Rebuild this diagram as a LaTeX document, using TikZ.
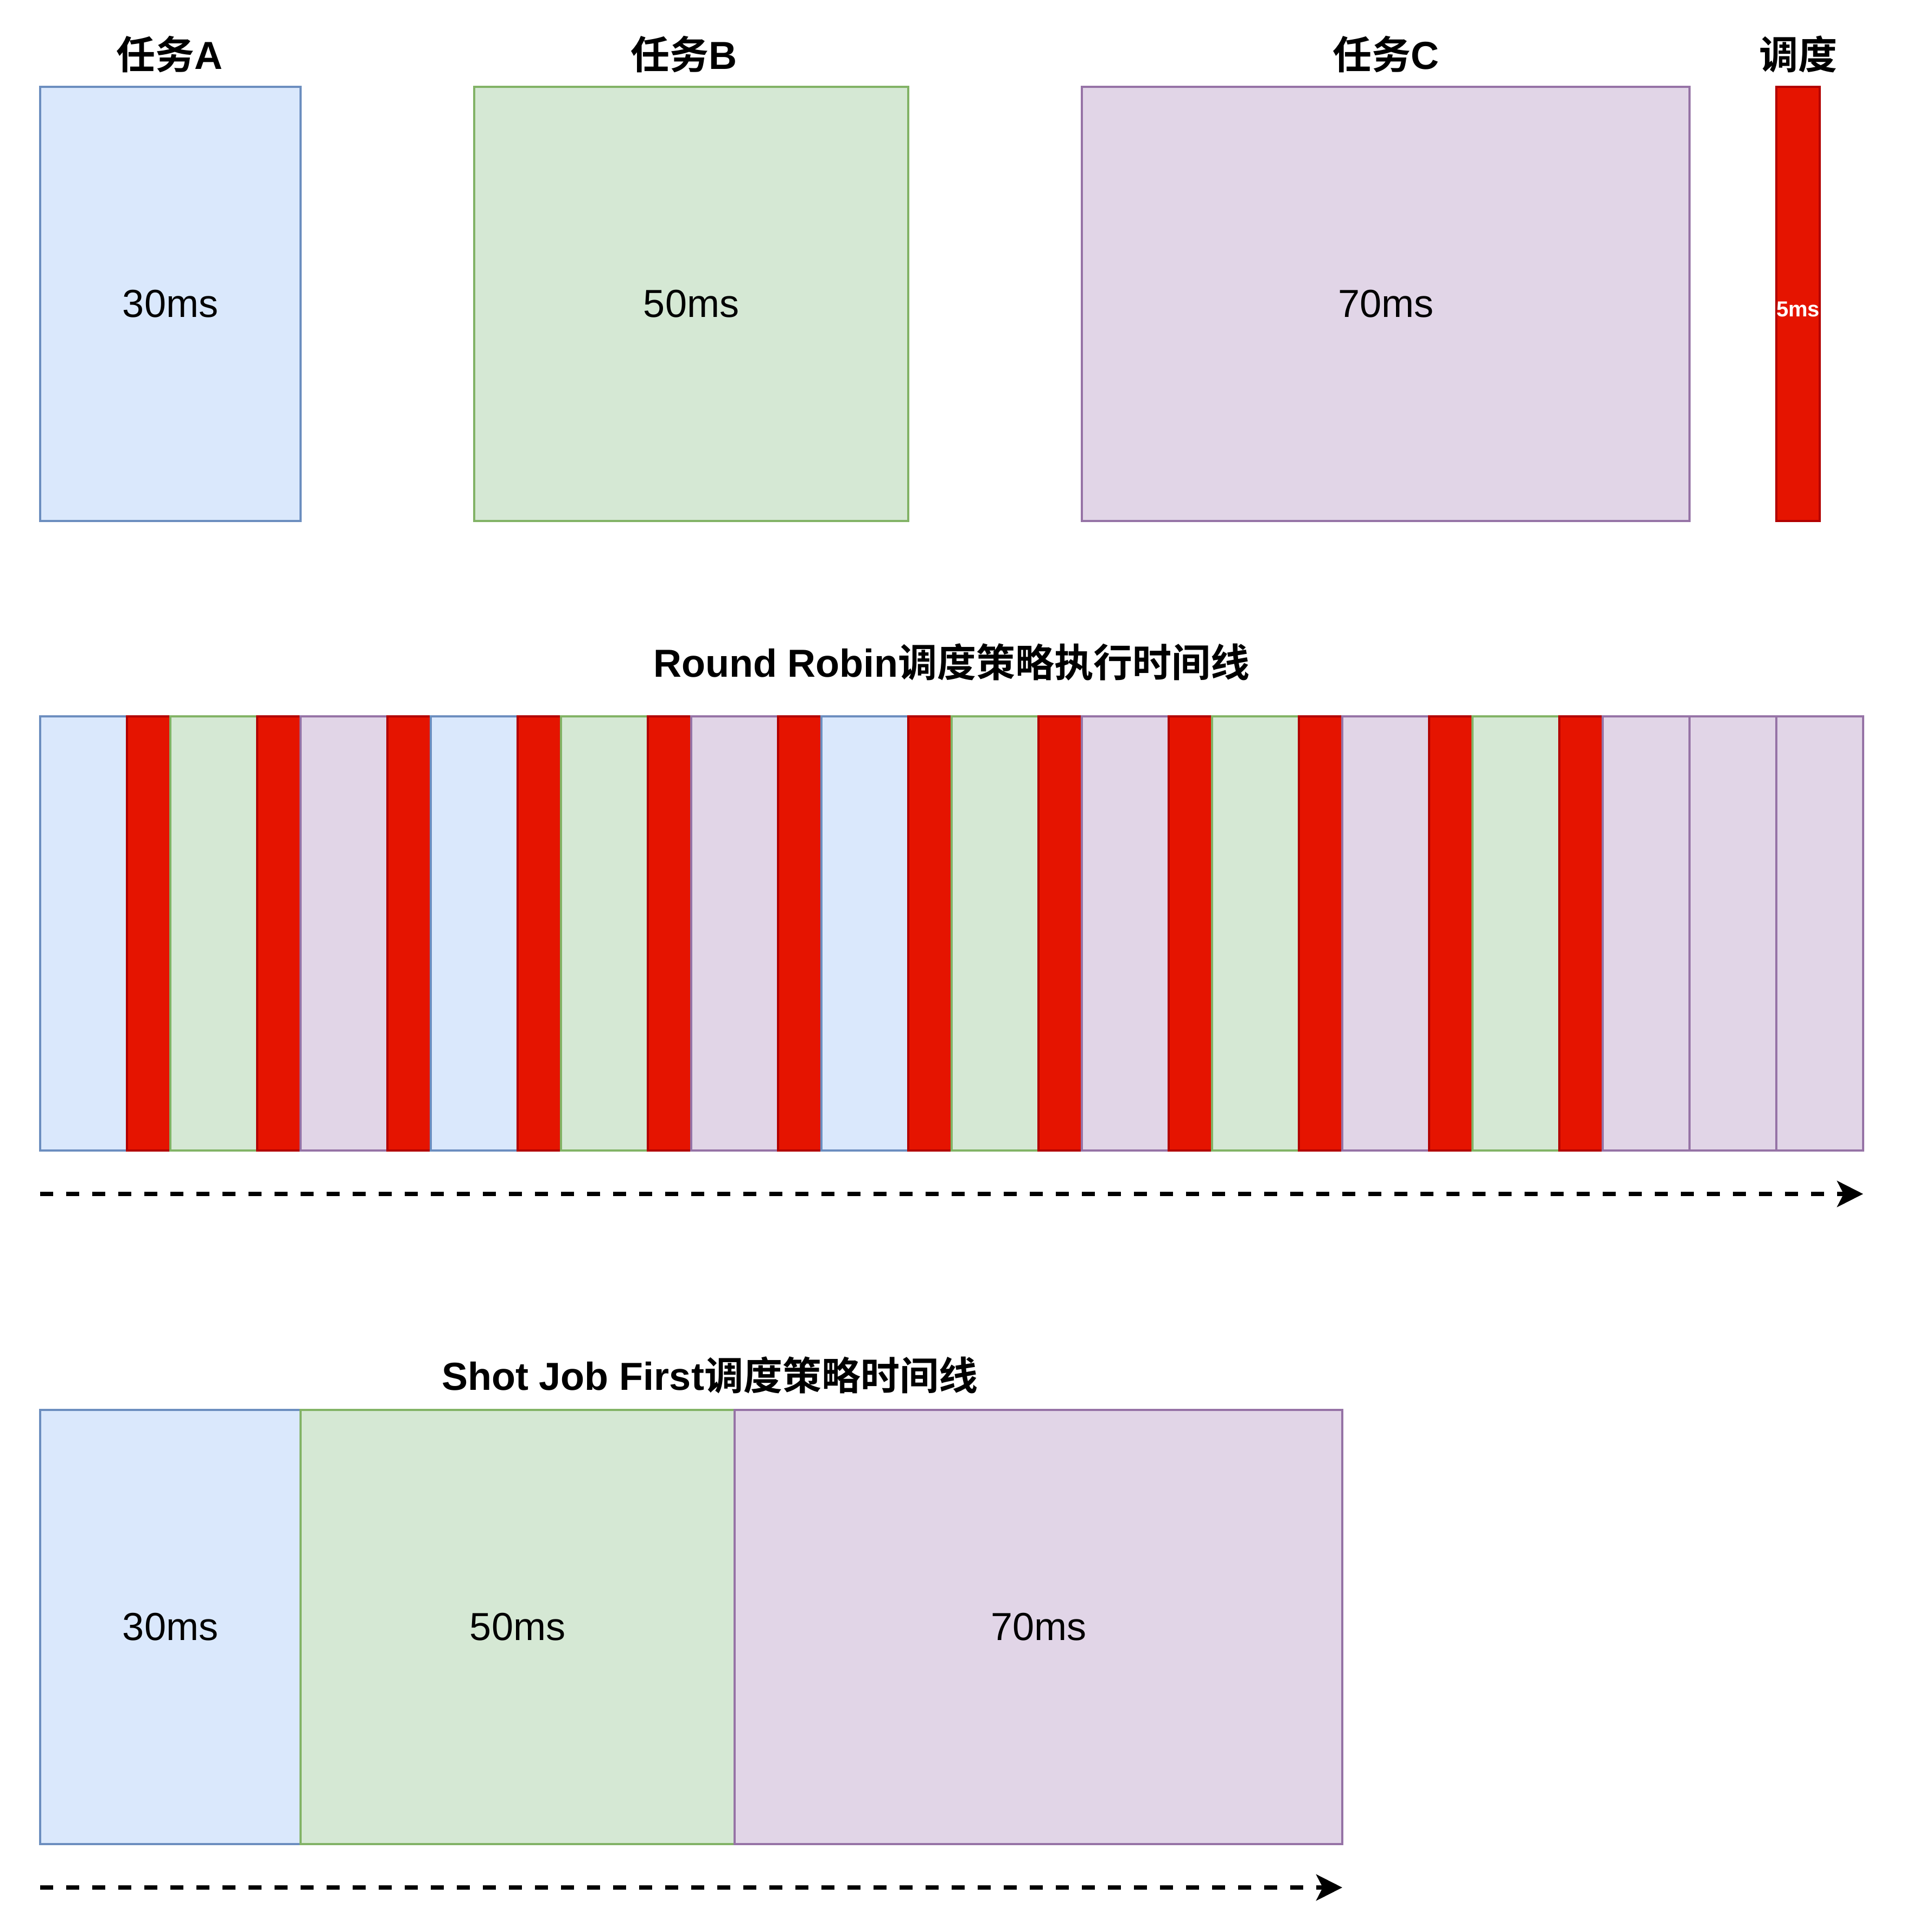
\documentclass[tikz,border=0pt]{standalone}
\usepackage{fontspec}
\setmainfont{Liberation Sans}
\newfontfamily\cjk{Noto Sans CJK SC}[BoldFont={Noto Sans CJK SC Bold}]
\usepackage{xcolor}
\usetikzlibrary{arrows.meta, positioning}
\definecolor{afill}{HTML}{DAE8FC}
\definecolor{aline}{HTML}{6C8EBF}
\definecolor{bfill}{HTML}{D5E8D4}
\definecolor{bline}{HTML}{82B366}
\definecolor{cfill}{HTML}{E1D5E7}
\definecolor{cline}{HTML}{9673A6}
\definecolor{sfill}{HTML}{E51400}
\definecolor{sline}{HTML}{B20000}
\tikzset{
  box/.style={line width=1pt, inner sep=0pt, outer sep=0pt, minimum height=200pt, anchor=north west},
  jobA/.style={box, draw=aline, fill=afill},
  jobB/.style={box, draw=bline, fill=bfill},
  jobC/.style={box, draw=cline, fill=cfill},
  jobS/.style={box, draw=sline, fill=sfill},
  sliceA/.style={jobA, minimum width=40pt},
  sliceB/.style={jobB, minimum width=40pt},
  sliceC/.style={jobC, minimum width=40pt},
  sliceS/.style={jobS, minimum width=20pt},
  heading/.style={font=\fontsize{18}{21.6}\selectfont\bfseries},
  timeline/.style={line width=2pt, dash pattern=on 6pt off 6pt, -{Stealth[length=12pt, width=12pt, inset=3pt]}}
}

\begin{document}
\begin{tikzpicture}[x=1pt, y=1pt, font=\fontsize{18}{21.6}\selectfont]
  \useasboundingbox (0,0) rectangle (878,-890);
  \node[jobA, minimum width=120pt] (taskA) at (18.5,-40) {30ms};
  \node[jobB, minimum width=200pt] (taskB) at (218.5,-40) {50ms};
  \node[jobC, minimum width=280pt] (taskC) at (498.5,-40) {70ms};
  \node[jobS, minimum width=20pt] (taskS) at (818.5,-40) {};
  \node[font=\fontsize{10}{12}\selectfont\bfseries, text=white] (schedms) at ([yshift=-2.5pt]taskS.center) {5ms};
  \node[heading] (labelA) at ([xshift=-0.5pt, yshift=15pt]taskA.north) {{\cjk 任务}A};
  \node[heading] (labelB) at ([xshift=-3.5pt, yshift=15pt]taskB.north) {{\cjk 任务}B};
  \node[heading] (labelC) at ([yshift=15pt]taskC.north) {{\cjk 任务}C};
  \node[heading] (labelS) at ([yshift=15pt]taskS.north) {\cjk 调度};

  \node[heading] (rrtitle) at (438.5,-305) {Round Robin{\cjk 调度策略执行时间线}};
  \coordinate (rr0) at (18.5,-430);
  \foreach \t [count=\i, remember=\i as \j (initially 0)] in {A,S,B,S,C,S,A,S,B,S,C,S,A,S,B,S,C,S,B,S,C,S,B,S,C,C,C}
    \node[slice\t, right=0pt of rr\j] (rr\i) {};
  \coordinate (rrstart) at ([yshift=-20pt]rr1.south west);
  \coordinate (rrend) at ([yshift=-20pt]rr27.south east);
  \draw[timeline] (rrstart) -- (rrend);

  \node[heading] (sjftitle) at (327,-633.5) {Shot Job First{\cjk 调度策略时间线}};
  \node[jobA, minimum width=120pt] (sjfA) at (18.5,-649.5) {30ms};
  \node[jobB, minimum width=200pt, right=0pt of sjfA] (sjfB) {50ms};
  \node[jobC, minimum width=280pt, right=0pt of sjfB] (sjfC) {70ms};
  \coordinate (sjfstart) at ([yshift=-20pt]sjfA.south west);
  \coordinate (sjfend) at ([yshift=-20pt]sjfC.south east);
  \draw[timeline] (sjfstart) -- (sjfend);
\end{tikzpicture}
\end{document}
